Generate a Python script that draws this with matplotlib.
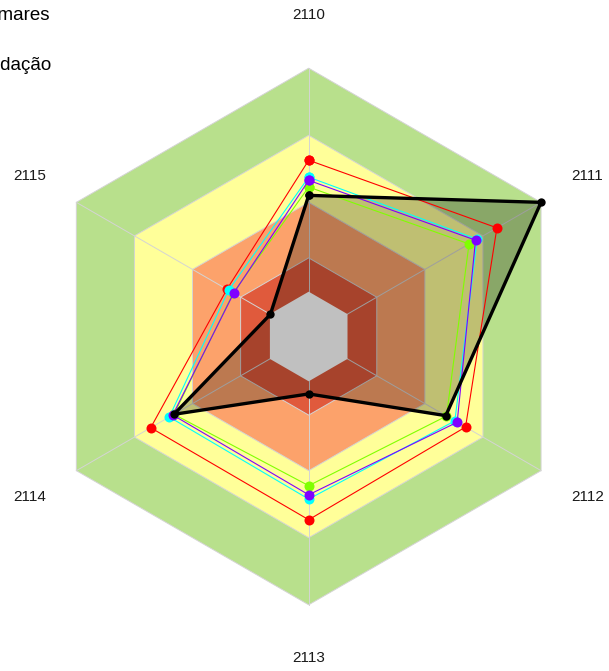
import numpy as np
import matplotlib.pyplot as plt
from matplotlib.patches import Polygon

# axis labels, clockwise from top
axis_labels = ['2110', '2111', '2112', '2113', '2114', '2115']
axis_angles = [90, 30, -30, -90, -150, 150]

# background bands (outer radius of each hexagon, outermost first)
band_radii = [1.0, 0.75, 0.5, 0.293]
band_colors = ['#B8E08C', '#FFFF99', '#FCA26B', '#E05A3C']
center_radius = 0.167
center_color = '#C0C0C0'

# series values as radius fractions
red_vals = [0.657, 0.81, 0.675, 0.683, 0.68, 0.352]
green_vals = [0.557, 0.69, 0.593, 0.556, 0.58, 0.325]
cyan_vals = [0.594, 0.725, 0.629, 0.606, 0.60, 0.345]
purple_vals = [0.582, 0.718, 0.639, 0.59, 0.585, 0.323]
black_vals = [0.526, 1.0, 0.59, 0.214, 0.58, 0.165]

legend_labels = ['Limares', 'Recomendação']


def to_xy(vals):
    a = np.radians(axis_angles)
    v = np.asarray(vals, dtype=float)
    return v * np.cos(a), v * np.sin(a)


def hexagon(r):
    x, y = to_xy([r] * 6)
    return np.column_stack([x, y])


W, H = 609, 671
cx, cy, R = 308.7, 336.5, 268.3

fig = plt.figure(figsize=(W / 100, H / 100), dpi=100)
ax = fig.add_axes([0, 0, 1, 1])
ax.set_xlim(-cx / R, (W - cx) / R)
ax.set_ylim(-(H - cy) / R, cy / R)
ax.axis('off')

# 1. bands
for r, c in zip(band_radii, band_colors):
    ax.add_patch(Polygon(hexagon(r), closed=True, facecolor=c,
                         edgecolor='#d4d4d4', linewidth=0.7, zorder=1))

# spokes
sx, sy = to_xy([1.0] * 6)
for x, y in zip(sx, sy):
    ax.plot([0, x], [0, y], color='#d4d4d4', linewidth=0.7, zorder=2)

# 2. filled black series
bx, by = to_xy(black_vals)
ax.add_patch(Polygon(np.column_stack([bx, by]), closed=True,
                     facecolor='black', alpha=0.25, edgecolor='none', zorder=3))

# grey center on top of fill
ax.add_patch(Polygon(hexagon(center_radius), closed=True, facecolor=center_color,
                     edgecolor='none', zorder=4))

# 3. colored series
series = [(red_vals, '#FF0000'), (green_vals, '#80FF00'),
          (cyan_vals, '#00FFFF'), (purple_vals, '#8000FF')]
for vals, col in series:
    x, y = to_xy(vals)
    ax.plot(np.append(x, x[0]), np.append(y, y[0]), color=col, linewidth=0.8,
            marker='o', markersize=7.2, markeredgewidth=0, zorder=5)

ax.plot(np.append(bx, bx[0]), np.append(by, by[0]), color='black', linewidth=2.4,
        marker='o', markersize=6, markeredgewidth=0, zorder=6)

# axis labels
lx, ly = to_xy([1.2] * 6)
for x, y, lab in zip(lx, ly, axis_labels):
    ax.text(x, y, lab, ha='center', va='center', fontsize=11,
            family='Liberation Sans', color='#1a1a1a')

# legend text (cut off at left edge as in original)
fig.text(50 / W, 1 - 15 / H, legend_labels[0], ha='right', va='center',
         fontsize=13.5, family='Liberation Sans')
fig.text(52 / W, 1 - 65 / H, legend_labels[1], ha='right', va='center',
         fontsize=13.5, family='Liberation Sans')

fig.savefig('out.png', dpi=100)
